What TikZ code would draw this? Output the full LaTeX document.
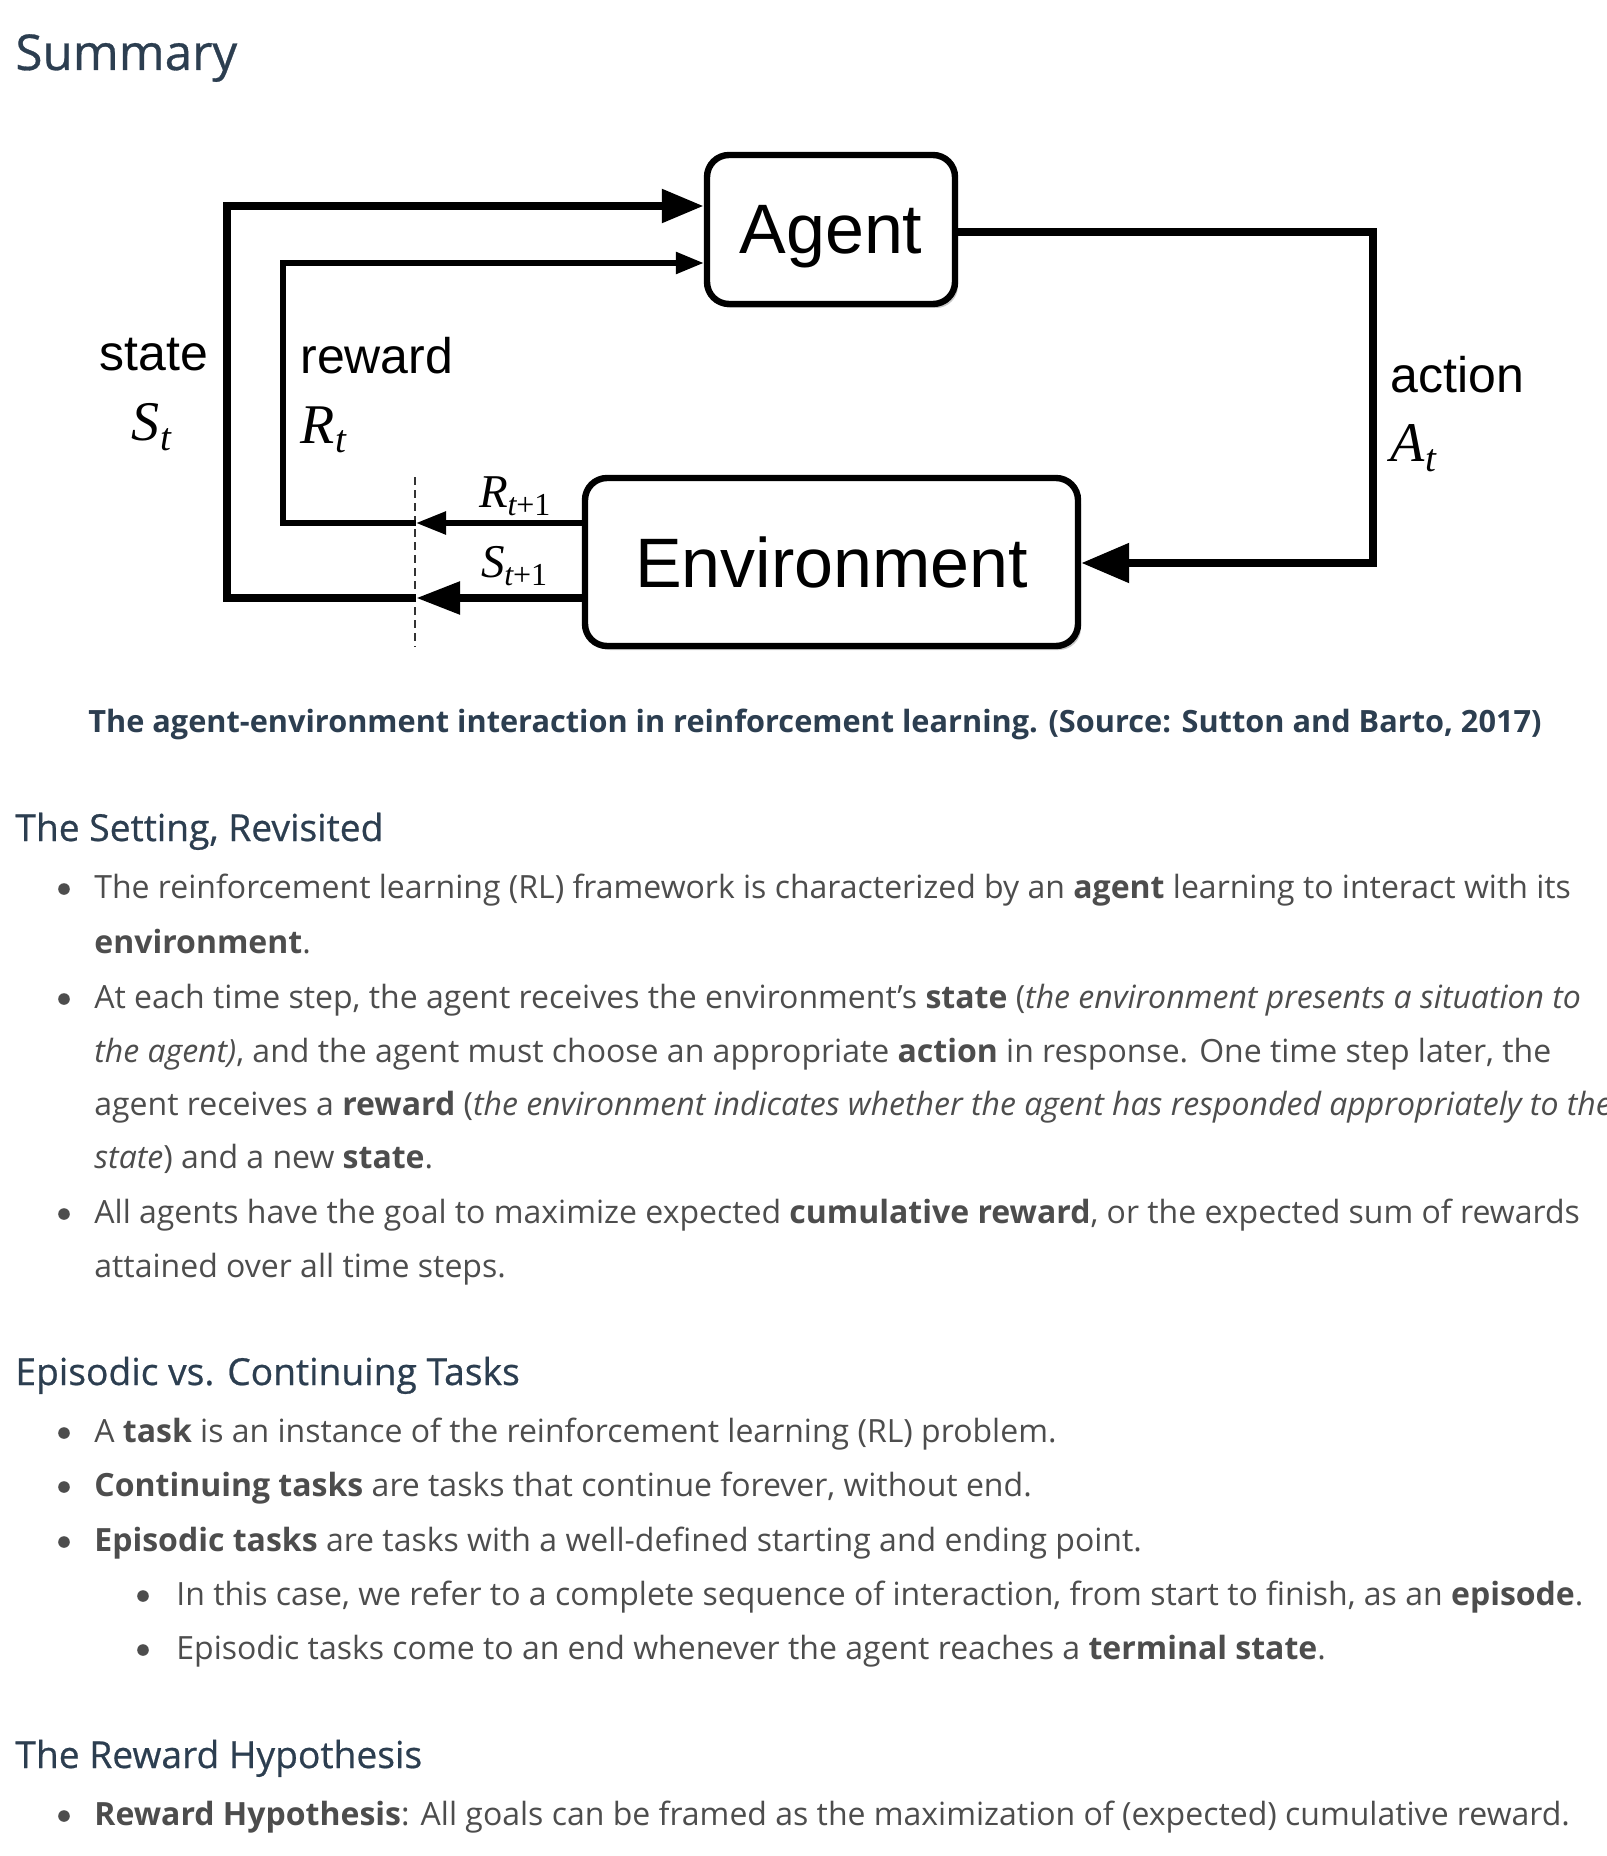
\documentclass[tikz,border=0pt]{standalone}
\usepackage{fontspec}
\setmainfont{Open Sans}
\newfontfamily\headf[FakeBold=0.6]{Open Sans}
\newfontfamily\arialf{Liberation Sans}
\newfontfamily\tnrf{Liberation Serif}
\usetikzlibrary{arrows.meta,shadows}
\newcommand{\setfs}[1]{\fontsize{#1}{#1}\selectfont}
\newcommand{\bigvar}[2]{{\tnrf\setfs{28}\itshape #1}\kern0.3pt\raisebox{-5pt}{\tnrf\setfs{19.5}\itshape #2}}
\newcommand{\smallvar}[2]{{\tnrf\setfs{23.5}\itshape #1}\kern-0.3pt\raisebox{-4pt}{\tnrf\setfs{16}{\itshape t}+1}}
\newcommand{\sq}{{\char"0027}}
\definecolor{headcol}{HTML}{2C3E50}
\definecolor{bodycol}{HTML}{4D4D4D}
\begin{document}
\begin{tikzpicture}[x=0.5pt,y=-0.5pt,
  head/.style={anchor=base west, inner sep=0pt, text=headcol, font=\headf\setfs{18.6}},
  body/.style={anchor=base west, inner sep=0pt, text=bodycol, font=\setfs{16}},
  dot/.style={circle, fill=bodycol, inner sep=0pt, minimum size=5.8pt},
  box/.style={draw=black, line width=3.2pt, rounded corners=11pt, fill=white, inner sep=0pt,
     font=\arialf\setfs{35}, text depth=0pt,
     drop shadow={shadow xshift=1.5pt, shadow yshift=-2pt, opacity=0.35, fill=black!60}},
  lab/.style={anchor=base west, inner sep=0pt, font=\arialf\setfs{25}},
  mlab/.style={anchor=base west, inner sep=0pt},
  thickline/.style={line width=4.2pt, line join=miter},
  medline/.style={line width=2.8pt, line join=miter},
  dashline/.style={line width=1pt, black!80, dash pattern=on 4pt off 2.5pt}
]
\fill[white] (0,0) rectangle (1606,1856);
\useasboundingbox (0,0) rectangle (1606,1856);

% heading
\node[head, font=\headf\setfs{24.7}] (summary) at (15,70) {Summary};

% diagram
\node[box, minimum width=124pt, minimum height=74.5pt] (agent) at (831,229.5) {Agent};
\node[box, minimum width=246.5pt, minimum height=84pt] (env) at (831.5,562) {Environment};

\coordinate (sBot) at (227,598);
\coordinate (sTop) at (227,206);
\coordinate (rBot) at (283,523);
\coordinate (rTop) at (283,263);
\coordinate (aTop) at (1373,232);
\coordinate (aBot) at (1373,563);
\coordinate (dTop) at (415,477);
\coordinate (dBot) at (415,647);
\coordinate (dS) at (416,598);
\coordinate (dR) at (416,523);

\draw[dashline] (dTop) -- (dBot);
\draw[thickline, -{Triangle[length=22pt,width=15.5pt]}] (sBot -| env.west) -- (dS);
\draw[thickline, -{Triangle[length=21pt,width=16pt]}] (dS) -- (sBot) -- (sTop) -- (sTop -| agent.west);
\draw[medline, -{Triangle[length=15pt,width=11pt]}] (rBot -| env.west) -- (dR);
\draw[medline, -{Triangle[length=14pt,width=10.5pt]}] (dR) -- (rBot) -- (rTop) -- (rTop -| agent.west);
\draw[thickline, -{Triangle[length=24pt,width=19pt]}] (aTop -| agent.east) -- (aTop) -- (aBot) -- (aBot -| env.east);

\node[lab] (stateL) at (99,371) {state};
\node[mlab] (St) at (131,440) {\bigvar{S}{t}};
\node[lab] (rewardL) at (300,373) {reward};
\node[mlab] (Rt) at (300,443) {\bigvar{R}{t}};
\node[lab] (actionL) at (1390,393) {action};
\node[mlab] (At) at (1390,461) {\bigvar{A}{t}};
\node[mlab] (Rt1) at (479,507) {\smallvar{R}{t+1}};
\node[mlab] (St1) at (481,577) {\smallvar{S}{t+1}};

% caption
\node[anchor=base, inner sep=0pt, text=headcol, font=\bfseries\setfs{15.35}] (cap) at (815,732)
  {The agent-environment interaction in reinforcement learning. (Source: Sutton and Barto, 2017)};

% section 1
\node[head] (h1) at (15,841) {The Setting, Revisited};
\node[dot] (b1) at (64,889) {};
\node[body] (l1) at (94,898) {The reinforcement learning (RL) framework is characterized by an \textbf{agent} learning to interact with its};
\node[body] (l2) at (94,953) {\textbf{environment}.};
\node[dot] (b2) at (64,999) {};
\node[body] (l3) at (94,1008) {At each time step, the agent receives the environment\sq s \textbf{state} (\textit{the environment presents a situation to}};
\node[body] (l4) at (94,1062) {\textit{the agent)}, and the agent must choose an appropriate \textbf{action} in response. One time step later, the};
\node[body] (l5) at (94,1115) {agent receives a \textbf{reward} (\textit{the environment indicates whether the agent has responded appropriately to the}};
\node[body] (l6) at (94,1168) {\textit{state}) and a new \textbf{state}.};
\node[dot] (b3) at (64,1214) {};
\node[body] (l7) at (94,1223) {All agents have the goal to maximize expected \textbf{cumulative reward}, or the expected sum of rewards};
\node[body] (l8) at (94,1277) {attained over all time steps.};

% section 2
\node[head] (h2) at (15,1385) {Episodic vs. Continuing Tasks};
\node[dot] (b4) at (64,1433) {};
\node[body] (m1) at (94,1442) {A \textbf{task} is an instance of the reinforcement learning (RL) problem.};
\node[dot] (b5) at (64,1487) {};
\node[body] (m2) at (94,1496) {\textbf{Continuing tasks} are tasks that continue forever, without end.};
\node[dot] (b6) at (64,1542) {};
\node[body] (m3) at (94,1551) {\textbf{Episodic tasks} are tasks with a well-defined starting and ending point.};
\node[dot] (b7) at (143,1596) {};
\node[body] (m4) at (176,1605) {In this case, we refer to a complete sequence of interaction, from start to finish, as an \textbf{episode}.};
\node[dot] (b8) at (143,1650) {};
\node[body] (m5) at (176,1659) {Episodic tasks come to an end whenever the agent reaches a \textbf{terminal state}.};

% section 3
\node[head] (h3) at (15,1768) {The Reward Hypothesis};
\node[dot] (b9) at (64,1816) {};
\node[body] (n1) at (94,1825) {\textbf{Reward Hypothesis}: All goals can be framed as the maximization of (expected) cumulative reward.};
\end{tikzpicture}
\end{document}
